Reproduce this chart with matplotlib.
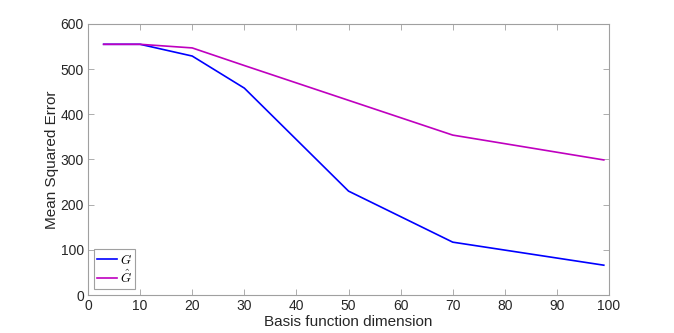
import matplotlib
matplotlib.use("Agg")
import matplotlib.pyplot as plt

plt.rcParams["font.family"] = ["Liberation Sans", "DejaVu Sans"]
plt.rcParams["mathtext.fontset"] = "cm"

dims = [3, 10, 20, 30, 50, 70, 99]
mse_g = [555, 555, 529, 458, 230, 117, 66]
mse_ghat = [555, 555, 547, 508, 431, 354, 299]

fig = plt.figure(figsize=(6.74, 3.33), dpi=100)
ax = fig.add_axes([0.1306, 0.1141, 0.7730, 0.8139])

ax.plot(dims, mse_g, color="#0000ff", lw=1.2, label=r"$G$")
ax.plot(dims, mse_ghat, color="#bf00bf", lw=1.2, label=r"$\hat{G}$")

ax.set_xlim(0, 100)
ax.set_ylim(0, 600)
ax.set_xticks(range(0, 101, 10))
ax.set_yticks(range(0, 601, 100))
ax.tick_params(direction="in", length=4, width=0.6, color="#a0a0a0",
               labelsize=10, labelcolor="#262626", top=True, right=True, pad=3)
for s in ax.spines.values():
    s.set_color("#a0a0a0")
    s.set_linewidth(0.8)

ax.set_xlabel("Basis function dimension", fontsize=11, color="#262626", labelpad=1)
ax.set_ylabel("Mean Squared Error", fontsize=11, color="#262626", labelpad=1)

leg = ax.legend(loc="lower left", fontsize=9.5, fancybox=False, framealpha=1,
                handlelength=1.5, handletextpad=0.2, borderpad=0.25,
                labelspacing=0.1, borderaxespad=0.45)
leg.get_frame().set_edgecolor("#a0a0a0")
leg.get_frame().set_linewidth(0.8)

fig.savefig("out.png", dpi=100)
